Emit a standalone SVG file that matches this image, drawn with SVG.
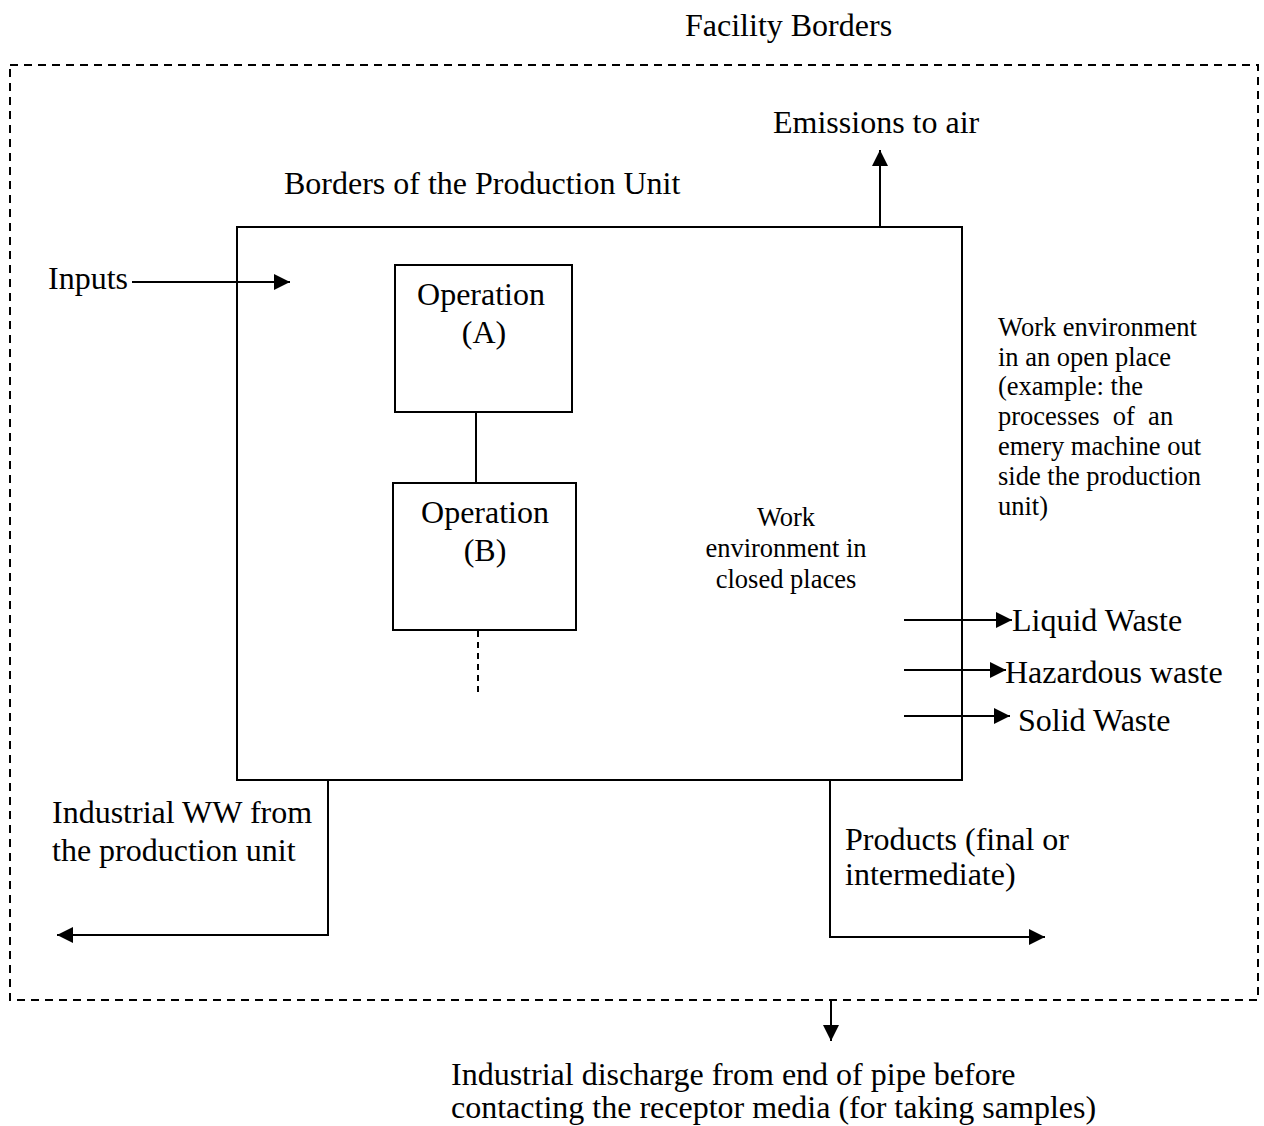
<svg xmlns="http://www.w3.org/2000/svg" width="1264" height="1126" viewBox="0 0 1264 1126">
<defs>
<style>
text{font-family:"Liberation Serif","Times New Roman",serif;fill:#000}
.b{font-size:32px}
.s{font-size:26.5px}
.ln{stroke:#000;stroke-width:2;fill:none}
.box{stroke:#000;stroke-width:2;fill:#fff}
</style>
<marker id="ah" viewBox="0 0 10 10" refX="10" refY="5" markerWidth="16" markerHeight="16" markerUnits="userSpaceOnUse" orient="auto">
<path d="M0,0 L10,5 L0,10 z" fill="#000"/>
</marker>
</defs>
<rect x="0" y="0" width="1264" height="1126" fill="#fff"/>
<g id="facility">
<rect x="10" y="65" width="1248" height="935" fill="none" stroke="#000" stroke-width="2" stroke-dasharray="8,6"/>
<text class="b" x="685" y="36">Facility Borders</text>
</g>
<g id="production-unit">
<rect class="box" x="237" y="227" width="725" height="553"/>
<text class="b" x="284" y="194">Borders of the Production Unit</text>
</g>
<g id="operation-a">
<rect class="box" x="395" y="265" width="177" height="147"/>
<text class="b" x="481" y="305" text-anchor="middle">Operation</text>
<text class="b" x="484" y="343" text-anchor="middle">(A)</text>
</g>
<g id="operation-b">
<rect class="box" x="393" y="483" width="183" height="147"/>
<text class="b" x="485" y="523" text-anchor="middle">Operation</text>
<text class="b" x="485" y="561" text-anchor="middle">(B)</text>
</g>
<g id="closed-env">
<text class="s" x="786" y="526" text-anchor="middle">Work</text>
<text class="s" x="786" y="557" text-anchor="middle">environment in</text>
<text class="s" x="786" y="588" text-anchor="middle">closed places</text>
</g>
<g id="open-env">
<text class="s" x="998" y="336">Work environment</text>
<text class="s" x="998" y="366">in an open place</text>
<text class="s" x="998" y="395">(example: the</text>
<text class="s" x="998" y="425" xml:space="preserve">processes  of  an</text>
<text class="s" x="998" y="455">emery machine out</text>
<text class="s" x="998" y="485">side the production</text>
<text class="s" x="998" y="515">unit)</text>
</g>
<g id="labels">
<text class="b" x="48" y="289">Inputs</text>
<text class="b" x="773" y="133">Emissions to air</text>
<text class="b" x="1012" y="631">Liquid Waste</text>
<text class="b" x="1005" y="683">Hazardous waste</text>
<text class="b" x="1018" y="731">Solid Waste</text>
<text class="b" x="52" y="823">Industrial WW from</text>
<text class="b" x="52" y="861">the production unit</text>
<text class="b" x="845" y="850">Products (final or</text>
<text class="b" x="845" y="885">intermediate)</text>
<text class="b" x="451" y="1085">Industrial discharge from end of pipe before</text>
<text class="b" x="451" y="1118">contacting the receptor media (for taking samples)</text>
</g>
<g id="connectors">
<line class="ln" x1="476" y1="412" x2="476" y2="483"/>
<line class="ln" x1="478" y1="631" x2="478" y2="695" stroke-dasharray="6,5"/>
<line class="ln" x1="132" y1="282" x2="290" y2="282" marker-end="url(#ah)"/>
<line class="ln" x1="880" y1="228" x2="880" y2="150" marker-end="url(#ah)"/>
<line class="ln" x1="904" y1="620" x2="1012" y2="620" marker-end="url(#ah)"/>
<line class="ln" x1="904" y1="670" x2="1006" y2="670" marker-end="url(#ah)"/>
<line class="ln" x1="904" y1="716" x2="1010" y2="716" marker-end="url(#ah)"/>
<polyline class="ln" points="328,781 328,935 57,935" marker-end="url(#ah)"/>
<polyline class="ln" points="830,781 830,937 1045,937" marker-end="url(#ah)"/>
<line class="ln" x1="831" y1="1000" x2="831" y2="1041" marker-end="url(#ah)"/>
</g>
</svg>
